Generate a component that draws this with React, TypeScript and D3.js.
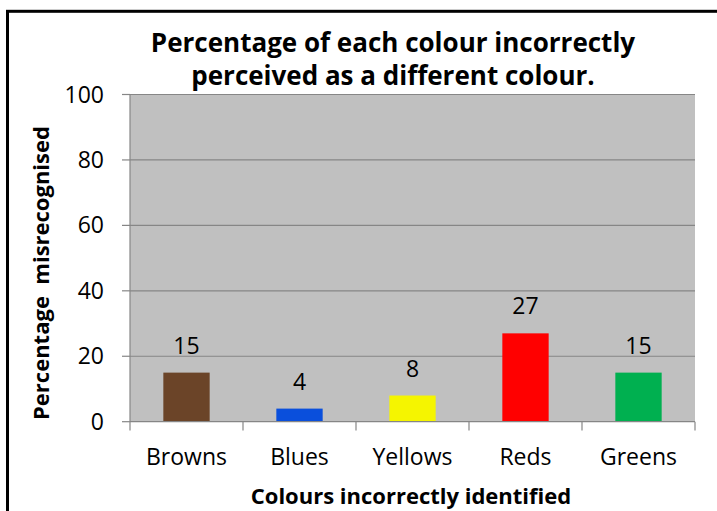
import React from "react";
import * as d3 from "d3";

const categories = ["Browns", "Blues", "Yellows", "Reds", "Greens"];
const values = [15, 4, 8, 27, 15];
const barColors = ["#6B4428", "#0A4FDC", "#F5F500", "#FF0000", "#00B050"];
const yTicks = [0, 20, 40, 60, 80, 100];
const titleLines = ["Percentage of each colour incorrectly", "perceived as a different colour."];
const yTitle = "Percentage\u00A0\u00A0misrecognised";
const xTitle = "Colours incorrectly identified";

const W = 717;
const H = 511;
const plotLeft = 130;
const plotRight = 695;
const plotTop = 94.5;
const plotBottom = 421.7;
const FONT = "'Open Sans', 'Noto Sans', sans-serif";

export default function App() {
  const x = d3.scaleBand<string>().domain(categories).range([plotLeft, plotRight]).padding(0);
  const y = d3.scaleLinear().domain([0, 100]).range([plotBottom, plotTop]);
  const barW = x.bandwidth() * 0.41;
  const grid = "#868686";
  const boundaries = [...categories.map((c) => x(c) as number), plotRight];

  return (
    <svg
      width={W}
      height={H}
      style={{ position: "absolute", left: 0, top: 0, background: "#fff" }}
      fontFamily={FONT}
    >
      <rect x={7.5} y={11.3} width={W + 20} height={H + 20} fill="#fff" stroke="#000" strokeWidth={3} />
      {titleLines.map((t, i) => (
        <text key={i} x={393} y={52 + i * 33} textAnchor="middle" fontSize={26} fontWeight="bold" fill="#000">
          {t}
        </text>
      ))}
      <rect x={plotLeft} y={plotTop} width={plotRight - plotLeft} height={plotBottom - plotTop} fill="#C0C0C0" />
      {yTicks.map((t) => (
        <g key={t}>
          {t > 0 && <line x1={plotLeft} x2={plotRight} y1={y(t)} y2={y(t)} stroke={grid} strokeWidth={1.2} />}
          <line x1={122} x2={plotLeft} y1={y(t)} y2={y(t)} stroke={grid} strokeWidth={1.2} />
          <text x={104} y={y(t) + 8} textAnchor="end" fontSize={23} fill="#000">
            {t}
          </text>
        </g>
      ))}
      <line x1={plotLeft} x2={plotLeft} y1={plotTop} y2={plotBottom} stroke={grid} strokeWidth={1.2} />
      {categories.map((c, i) => {
        const cx = (x(c) as number) + x.bandwidth() / 2;
        return (
          <g key={c}>
            <rect x={cx - barW / 2} y={y(values[i])} width={barW} height={plotBottom - y(values[i])} fill={barColors[i]} />
            <text x={cx} y={y(values[i]) - 19} textAnchor="middle" fontSize={23} fill="#000">
              {values[i]}
            </text>
            <text x={cx} y={465} textAnchor="middle" fontSize={23} fill="#000">
              {c}
            </text>
          </g>
        );
      })}
      <line x1={plotLeft} x2={plotRight} y1={plotBottom} y2={plotBottom} stroke={grid} strokeWidth={1.2} />
      {boundaries.map((b, i) => (
        <line key={i} x1={b} x2={b} y1={plotBottom} y2={430.5} stroke={grid} strokeWidth={1.2} />
      ))}
      <text x={411} y={504} textAnchor="middle" fontSize={22} fontWeight="bold" fill="#000">
        {xTitle}
      </text>
      <text
        transform={`translate(49, 273) rotate(-90)`}
        textAnchor="middle"
        fontSize={22}
        fontWeight="bold"
        fill="#000"
      >
        {yTitle}
      </text>
    </svg>
  );
}
